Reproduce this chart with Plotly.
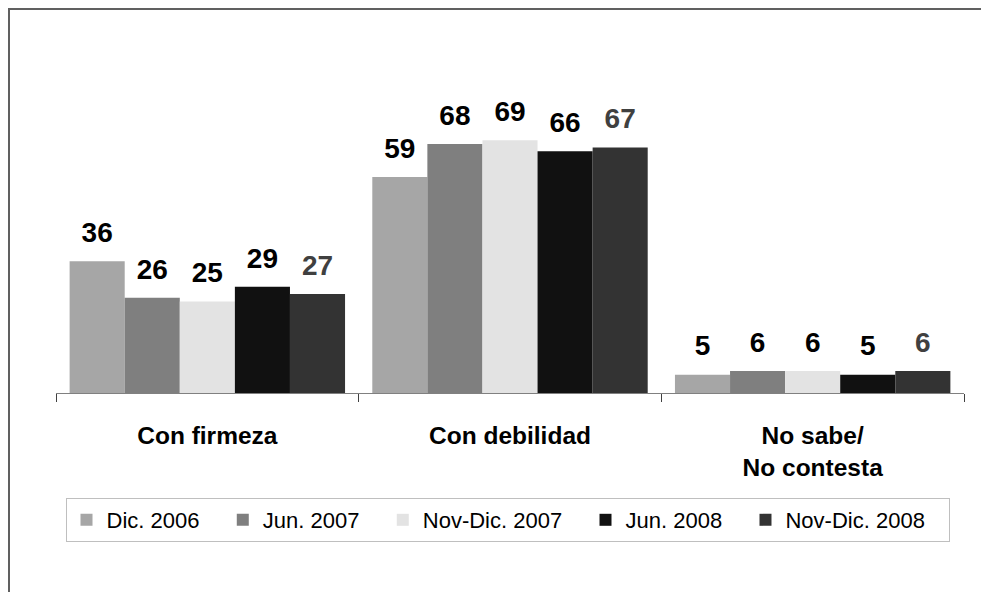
import plotly.graph_objects as go

# ---- data ----
categories = ["Con firmeza", "Con debilidad", "No sabe/<br>No contesta"]
series_names = ["Dic. 2006", "Jun. 2007", "Nov-Dic. 2007", "Jun. 2008", "Nov-Dic. 2008"]
dic_2006 = [36, 59, 5]
jun_2007 = [26, 68, 6]
novdic_2007 = [25, 69, 6]
jun_2008 = [29, 66, 5]
novdic_2008 = [27, 67, 6]
series_values = [dic_2006, jun_2007, novdic_2007, jun_2008, novdic_2008]

bar_colors = ["#a6a6a6", "#7f7f7f", "#e3e3e3", "#111111", "#333333"]
label_colors = ["#000000", "#000000", "#000000", "#000000", "#404040"]

# page has an 8px body margin; figure sized to fit the 989x592 window
OFF = 8
W, H = 989 - OFF, 592 - OFF
ML, MT = 56 - OFF, 100 - OFF
PLOT_R, PLOT_B = 964 - OFF, 393 - OFF
MR, MB = W - PLOT_R, H - PLOT_B
PW, PH = W - ML - MR, H - MT - MB
FONT = "Liberation Sans, Arial, sans-serif"
NB = "\u00a0\u00a0\u00a0"  # trailing spacing between legend entries


def fx(p):  # page pixel x -> paper
    return (p - OFF - ML) / PW


def fy(p):  # page pixel y -> paper
    return (PLOT_B - (p - OFF)) / PH


fig = go.Figure()
for i, (name, vals) in enumerate(zip(series_names, series_values)):
    fig.add_trace(go.Bar(
        name=name + NB, x=categories, y=vals, offsetgroup=str(i),
        marker=dict(color=bar_colors[i], line=dict(width=0)),
        hovertemplate=name + ": %{y}<extra></extra>",
    ))

for i, (name, vals) in enumerate(zip(series_names, series_values)):
    fig.add_trace(go.Scatter(
        x=categories, y=vals, offsetgroup=str(i), mode="markers+text",
        text=[str(v) for v in vals], textposition="top center",
        textfont=dict(family=FONT, size=28, color=label_colors[i], weight=700),
        marker=dict(size=18, color="rgba(0,0,0,0)"),
        showlegend=False, hoverinfo="skip", cliponaxis=False,
    ))

# frame border (left and top)
shapes = [
    dict(type="line", xref="paper", yref="paper", x0=fx(9), x1=fx(9), y0=fy(600), y1=fy(8),
         line=dict(color="#606060", width=2)),
    dict(type="line", xref="paper", yref="paper", x0=fx(8), x1=fx(1000), y0=fy(9), y1=fy(9),
         line=dict(color="#606060", width=2)),
]

fig.update_layout(
    width=W, height=H,
    margin=dict(l=ML, r=MR, t=MT, b=MB, pad=0, autoexpand=False),
    paper_bgcolor="white", plot_bgcolor="white",
    barmode="group", bargap=0.09, bargroupgap=0,
    scattermode="group", scattergap=0.09,
    font=dict(family=FONT, color="#000000"),
    xaxis=dict(
        type="category", showline=True, linecolor="#808080", linewidth=1,
        ticks="outside", tickson="boundaries", ticklen=8, tickcolor="#404040", tickwidth=1,
        tickfont=dict(family=FONT, size=24.5, weight=700, color="#000000"),
        ticklabelstandoff=21, showgrid=False, zeroline=False,
    ),
    yaxis=dict(range=[0, 80], visible=False, showgrid=False, zeroline=False),
    showlegend=True,
    legend=dict(
        orientation="h", x=fx(507.5), xanchor="center", y=fy(498), yanchor="top",
        bordercolor="#bfbfbf", borderwidth=1, bgcolor="white",
        font=dict(family=FONT, size=22, color="#000000"), traceorder="normal",
    ),
    shapes=shapes,
)

fig.write_html("out.html")
